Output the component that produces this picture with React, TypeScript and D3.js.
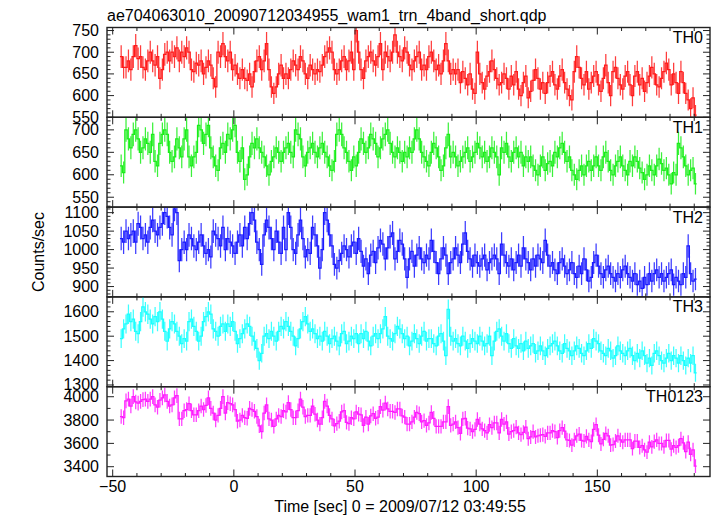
import React from "react";
import * as d3 from "d3";

const TITLE = "ae704063010_20090712034955_wam1_trn_4band_short.qdp";
const X_LABEL = "Time [sec] 0 = 2009/07/12 03:49:55";
const Y_LABEL = "Counts/sec";
const X_TICKS = [-50, 0, 50, 100, 150];
const BIN_START = -47;
const BIN_WIDTH = 1;

const TH0 = [
  690, 665, 665, 680, 660, 690, 715, 685, 690, 665,
  660, 680, 700, 680, 670, 690, 640, 660, 695, 700,
  680, 700, 690, 710, 680, 700, 690, 710, 700, 660,
  655, 675, 670, 680, 650, 665, 680, 670, 640, 620,
  700, 690, 720, 690, 680, 700, 660, 670, 650, 640,
  660, 640, 635, 650, 620, 655, 680, 690, 660, 680,
  720, 660, 620, 605, 620, 650, 670, 640, 650, 640,
  660, 680, 670, 660, 690, 680, 650, 640, 670, 660,
  650, 660, 655, 670, 690, 700, 710, 700, 660, 650,
  660, 680, 690, 660, 680, 700, 660, 750, 700,
  660, 640, 680, 690, 700, 680, 670, 690, 720, 660,
  700, 690, 680, 700, 740, 700, 690, 680, 710, 700,
  670, 660, 680, 690, 700, 660, 670, 660, 690, 700,
  680, 660, 670, 650, 680, 720, 680, 650, 660, 650,
  660, 630, 655, 640, 625, 650, 615, 605, 700, 650,
  630, 615, 645, 655, 680, 660, 640, 625, 630, 650,
  640, 615, 645, 625, 655, 615, 600, 630, 645, 595,
  610, 635, 660, 640, 615, 630, 605, 630, 645, 655,
  625, 615, 645, 660, 630, 615, 600, 590, 655, 690,
  665, 640, 625, 655, 615, 630, 645, 655, 625, 610,
  640, 670, 630, 600, 655, 665, 640, 625, 615, 645,
  655, 625, 600, 645, 655, 625, 640, 610, 630, 645,
  665, 650, 625, 620, 640, 655, 675, 660, 625, 650,
  630, 605, 655, 630, 605, 590, 570, 595, 555,
];

const TH1 = [
  620, 605, 700, 680, 660, 690, 700, 680, 650, 660,
  680, 670, 650, 690, 630, 620, 670, 690, 700, 690,
  650, 630, 640, 680, 660, 640, 680, 700, 640, 620,
  640, 650, 710, 700, 670, 690, 710, 660, 640, 620,
  610, 660, 670, 650, 690, 680, 700, 710, 650, 630,
  660, 590, 600, 640, 670, 660, 680, 660, 650, 640,
  620, 600, 630, 640, 660, 650, 630, 650, 660, 670,
  650, 640, 700, 690, 680, 640, 620, 650, 660, 670,
  650, 640, 660, 670, 650, 640, 620, 610, 630, 690,
  700, 690, 660, 650, 630, 610, 640, 620, 650,
  680, 670, 650, 660, 690, 680, 670, 640, 660, 680,
  690, 700, 670, 650, 640, 660, 650, 630, 650, 640,
  660, 650, 680, 700, 680, 650, 640, 630, 620, 650,
  670, 660, 640, 610, 620, 660, 690, 640, 650, 640,
  620, 630, 640, 650, 660, 630, 640, 650, 670, 660,
  640, 650, 630, 640, 660, 650, 640, 600, 660, 650,
  670, 640, 630, 650, 660, 640, 650, 620, 640, 630,
  640, 620, 610, 600, 620, 640, 610, 625, 630, 620,
  650, 640, 660, 670, 650, 630, 640, 610, 600, 590,
  610, 620, 600, 620, 630, 610, 620, 640, 620, 610,
  640, 650, 630, 610, 600, 620, 630, 640, 620, 610,
  600, 630, 620, 640, 630, 615, 605, 590, 600, 620,
  610, 600, 620, 635, 625, 610, 615, 600, 580, 605,
  600, 670, 660, 640, 620, 600, 610, 615, 580,
];

const TH2 = [
  1030, 1020, 1050, 1030, 1040, 1050, 1020, 1070, 1060, 1030,
  1040, 1020, 1060, 1080, 1050, 1040, 1060, 1070, 1100, 1090,
  1060, 1040, 1110, 1100, 970, 1000, 1020, 1000, 1040, 1030,
  1010, 1000, 1020, 1040, 1010, 990, 1000, 980, 1050, 1040,
  1030, 1010, 1060, 1000, 1030, 1020, 1010, 990, 1020, 1040,
  1010, 1060, 1030, 1070, 1100, 1080, 1020, 1000, 960, 1040,
  1080, 1060, 1030, 1000, 1050, 1020, 990, 1060, 1000, 1100,
  1060, 1000, 990, 1040, 1080, 1030, 980, 1000, 990, 1060,
  1040, 1010, 950, 1000, 1100, 1080, 1040, 1010, 960, 950,
  970, 990, 1010, 1000, 980, 1010, 1020, 990, 1030,
  995, 955, 975, 935, 985, 995, 965, 1005, 1025, 1015,
  975, 1005, 1035, 1045, 975, 995, 1025, 1015, 975, 925,
  975, 995, 955, 985, 1005, 975, 965, 985, 975, 1025,
  995, 965, 935, 975, 1005, 985, 935, 965, 975, 1005,
  985, 965, 1015, 1045, 995, 975, 955, 985, 965, 955,
  975, 985, 945, 965, 975, 985, 975, 935, 1015, 985,
  965, 955, 975, 945, 965, 985, 955, 1005, 975, 965,
  945, 975, 955, 985, 975, 965, 1025, 985, 955, 965,
  945, 935, 965, 975, 955, 935, 945, 965, 935, 925,
  955, 935, 975, 945, 915, 925, 965, 985, 955, 935,
  925, 945, 955, 935, 925, 915, 935, 925, 945, 955,
  935, 925, 915, 935, 905, 915, 895, 925, 905, 935,
  915, 935, 945, 925, 935, 915, 925, 935, 945, 905,
  925, 915, 905, 935, 925, 1010, 935, 915, 920,
];

const TH3 = [
  1490, 1530, 1550, 1590, 1560, 1570, 1520, 1510, 1560, 1620,
  1600, 1590, 1570, 1550, 1580, 1560, 1600, 1570, 1520, 1480,
  1530, 1560, 1550, 1520, 1500, 1470, 1490, 1480, 1560, 1570,
  1540, 1520, 1480, 1500, 1560, 1580, 1600, 1590, 1530, 1520,
  1500, 1540, 1550, 1520, 1550, 1540, 1560, 1520, 1470, 1490,
  1510, 1530, 1550, 1540, 1500, 1480, 1450, 1400, 1430, 1500,
  1510, 1490, 1520, 1500, 1480, 1520, 1540, 1530, 1560, 1540,
  1520, 1500, 1460, 1490, 1530, 1560, 1580, 1550, 1520, 1530,
  1510, 1490, 1500, 1480, 1520, 1500, 1470, 1490, 1500, 1480,
  1460, 1510, 1520, 1470, 1480, 1500, 1490, 1510, 1470,
  1510, 1490, 1520, 1480, 1460, 1500, 1510, 1490, 1510, 1530,
  1580, 1500, 1490, 1480, 1510, 1540, 1530, 1510, 1490, 1500,
  1460, 1480, 1510, 1490, 1470, 1500, 1520, 1480, 1490, 1490,
  1470, 1460, 1500, 1510, 1480, 1420, 1610, 1500, 1480, 1490,
  1470, 1460, 1500, 1480, 1450, 1470, 1490, 1480, 1470, 1500,
  1480, 1460, 1470, 1500, 1420, 1480, 1520, 1530, 1500, 1480,
  1510, 1470, 1450, 1490, 1460, 1450, 1470, 1440, 1480, 1450,
  1460, 1470, 1430, 1440, 1460, 1440, 1420, 1450, 1460, 1470,
  1480, 1460, 1440, 1430, 1470, 1450, 1440, 1420, 1440, 1460,
  1450, 1430, 1420, 1440, 1470, 1450, 1490, 1480, 1470, 1440,
  1430, 1420, 1450, 1440, 1410, 1420, 1460, 1440, 1430, 1420,
  1440, 1450, 1420, 1400, 1430, 1410, 1440, 1420, 1390, 1410,
  1380, 1430, 1440, 1420, 1400, 1390, 1410, 1430, 1400, 1420,
  1410, 1390, 1420, 1400, 1380, 1410, 1390, 1420, 1350,
];

// TH0123 is the sum of the four bands
const TH0123 = TH0.map((v, i) => v + TH1[i] + TH2[i] + TH3[i]);

const PANEL_NAMES = ["TH0", "TH1", "TH2", "TH3", "TH0123"];
const PANEL_SERIES = [TH0, TH1, TH2, TH3, TH0123];
const PANEL_DOMAINS: [number, number][] = [
  [550, 757],
  [528, 728],
  [872, 1115],
  [1293, 1661],
  [3316, 4086],
];
const PANEL_Y_TICKS = [
  [550, 600, 650, 700, 750],
  [550, 600, 650, 700],
  [900, 950, 1000, 1050, 1100],
  [1300, 1400, 1500, 1600],
  [3400, 3600, 3800, 4000],
];
const PANEL_MINOR = [10, 10, 10, 20, 100];
const COLORS = ["#ff1a1a", "#1aee1a", "#1a1aff", "#1affff", "#ff1aff"];

const FONT = "'Liberation Sans', Arial, Helvetica, sans-serif";
const FS = 16;

export default function App() {
  const W = 717, H = 516;
  const L = 107, R = 710, T = 27.5, B = 476.5;
  const ph = (B - T) / 5;
  const x = d3.scaleLinear().domain([-52.35, 196.5]).range([L, R]);
  const majT = 7, minT = 3.5;
  const xMinor = d3.range(-50, 197, 10);

  const panels = PANEL_SERIES.map((vals, p) => {
    const y0 = T + p * ph, y1 = T + (p + 1) * ph;
    const y = d3.scaleLinear().domain(PANEL_DOMAINS[p]).range([y1, y0]);
    const pts: [number, number][] = [];
    vals.forEach((v, i) => {
      const t0 = BIN_START + i * BIN_WIDTH;
      pts.push([x(t0), y(v)]);
      pts.push([x(t0 + BIN_WIDTH), y(v)]);
    });
    const stepPath = d3.line()(pts) || "";
    const errPath = vals
      .map((v, i) => {
        const tc = x(BIN_START + (i + 0.5) * BIN_WIDTH);
        const e = Math.sqrt(v / BIN_WIDTH);
        return `M${tc},${y(v - e)}V${y(v + e)}`;
      })
      .join("");
    const [dmin, dmax] = PANEL_DOMAINS[p];
    const minor = PANEL_MINOR[p];
    const majorStep = PANEL_Y_TICKS[p][1] - PANEL_Y_TICKS[p][0];
    const yt = d3.range(Math.ceil(dmin / minor) * minor, dmax + 0.001, minor);
    const color = COLORS[p];
    return (
      <g key={p}>
        <clipPath id={`clip${p}`}>
          <rect x={L} y={y0} width={R - L} height={y1 - y0} />
        </clipPath>
        <g clipPath={`url(#clip${p})`}>
          <path d={errPath} stroke={color} strokeWidth={1.25} strokeOpacity={0.85} fill="none" />
          <path d={stepPath} stroke={color} strokeWidth={1.25} fill="none" />
        </g>
        {yt.map((v) => {
          const len = v % majorStep === 0 ? majT : minT;
          return (
            <g key={v} stroke="#222" strokeWidth={1}>
              <line x1={L} x2={L + len} y1={y(v)} y2={y(v)} />
              <line x1={R} x2={R - len} y1={y(v)} y2={y(v)} />
            </g>
          );
        })}
        {xMinor.map((t) => {
          const len = t % 50 === 0 ? majT : minT;
          return (
            <g key={t} stroke="#222" strokeWidth={1}>
              <line x1={x(t)} x2={x(t)} y1={y0} y2={y0 + len} />
              <line x1={x(t)} x2={x(t)} y1={y1} y2={y1 - len} />
            </g>
          );
        })}
        {PANEL_Y_TICKS[p].map((v) => (
          <text key={v} x={99} y={y(v) + 5.5} textAnchor="end" fontSize={FS} fontFamily={FONT} fill="#000">
            {v}
          </text>
        ))}
        <text x={703} y={y0 + 15.5} textAnchor="end" fontSize={FS} fontFamily={FONT} fill="#000">
          {PANEL_NAMES[p]}
        </text>
        <rect x={L} y={y0} width={R - L} height={y1 - y0} fill="none" stroke="#222" strokeWidth={1.4} />
      </g>
    );
  });

  return (
    <svg width={W} height={H} style={{ position: "absolute", left: 0, top: 0, background: "#fff" }}>
      <rect x={0} y={0} width={W} height={H} fill="#fff" />
      <text x={107} y={20.5} fontSize={FS} fontFamily={FONT} fill="#000">
        {TITLE}
      </text>
      {panels}
      {X_TICKS.map((t) => (
        <text key={t} x={x(t)} y={492} textAnchor="middle" fontSize={FS} fontFamily={FONT} fill="#000">
          {t < 0 ? `\u2212${-t}` : t}
        </text>
      ))}
      <text x={400} y={512} textAnchor="middle" fontSize={FS} fontFamily={FONT} fill="#000">
        {X_LABEL}
      </text>
      <text transform={`translate(44, ${(T + B) / 2}) rotate(-90)`} textAnchor="middle" fontSize={FS} fontFamily={FONT} fill="#000">
        {Y_LABEL}
      </text>
    </svg>
  );
}
